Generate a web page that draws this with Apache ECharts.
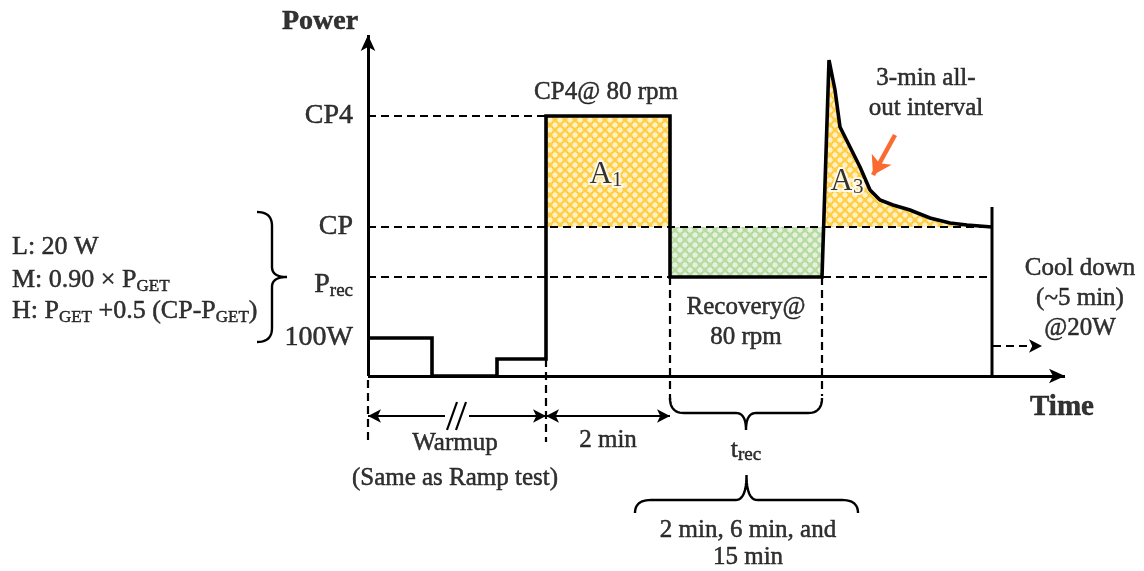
<!DOCTYPE html>
<html><head><meta charset="utf-8">
<script src="https://cdn.jsdelivr.net/npm/echarts@6/dist/echarts.min.js"></script>
<style>html,body{margin:0;padding:0;background:#fff}#c{width:1144px;height:571px}</style>
</head><body><div id="c"></div>
<script>
// ---------- data (schematic units: time along x, power along y) ----------
const levelNames  = ['CP4', 'CP', 'Prec', '100W'];
const levelValues = [260, 149, 99, 38];
const CP4 = 260, CP = 149, PREC = 99;
const warmLow = 17;
// phase boundaries on the time axis
const tWarm1End = 64, tWarm2Start = 129, tCP4Start = 178, tCP4End = 302, tRecEnd = 454, tEnd = 624;
const xAxisEnd = 697, yAxisEnd = 341;
// power profile
const profileTime  = [0, 64, 64, 129, 129, 178, 178, 302, 302, 454, 461, 467, 472, 482, 492, 502, 512, 525, 542, 562, 582, 599, 624];
const profilePower = [38, 38, 0, 0, 17, 17, 260, 260, 99, 99, 316, 286, 249, 229, 209, 186, 176, 171, 166, 158, 153, 151, 149];
const endMarkTop = 169;
const coolDownLevel = 30;

const FONT = 'Liberation Serif';
const INK = '#000';

function pattern(bg, fg) {
  const c = document.createElement('canvas'); c.width = 10; c.height = 10;
  const g = c.getContext('2d');
  g.fillStyle = bg; g.fillRect(0, 0, 10, 10);
  g.strokeStyle = fg; g.lineWidth = 1;
  [[0,0],[10,0],[0,10],[10,10],[5,5]].forEach(([x,y]) => { g.beginPath(); g.arc(x, y, 3.4, 0, Math.PI*2); g.stroke(); });
  g.fillStyle = fg;
  [[5,0],[0,5],[10,5],[5,10]].forEach(([x,y]) => { g.beginPath(); g.arc(x, y, 1, 0, Math.PI*2); g.fill(); });
  return c;
}
const yellowPat = pattern('#FFF1C6', '#FFC21A');
const greenPat  = pattern('#E4F1DC', '#A8D38C');

const profile = profileTime.map((t, i) => [t, profilePower[i]]);
// A3 region: part of the all-out curve above CP
const iRise = profileTime.indexOf(tRecEnd, 9);
const riseX = profileTime[iRise] + (profileTime[iRise+1] - profileTime[iRise]) * (CP - profilePower[iRise]) / (profilePower[iRise+1] - profilePower[iRise]);
const a3 = [[riseX, CP]].concat(profile.slice(iRise + 1));

const dash = { color: INK, width: 2.2, type: [8, 5] };
function seg(pts, style, z) {
  return { type: 'line', data: pts, symbol: 'none', lineStyle: style, z: z || 3, silent: true, animation: false };
}
function area(pts, origin, img) {
  return { type: 'line', data: pts, symbol: 'none', lineStyle: { width: 0 }, z: 1, silent: true,
    areaStyle: { origin: origin, opacity: 1, color: { image: img, repeat: 'repeat' } } };
}

const inkBorder = { textBorderColor: INK, textBorderWidth: 0.5 };
const rich = {
  s17: Object.assign({ fontFamily: FONT, fontSize: 17, color: INK, verticalAlign: 'bottom', lineHeight: 17 }, inkBorder),
  s19: Object.assign({ fontFamily: FONT, fontSize: 19, color: INK, verticalAlign: 'bottom', lineHeight: 19 }, inkBorder),
  a:   { fontFamily: FONT, fontSize: 31, color: INK, lineHeight: 32, textBorderColor: '#fff', textBorderWidth: 4 },
  as:  { fontFamily: FONT, fontSize: 21, color: INK, verticalAlign: 'bottom', lineHeight: 20, textBorderColor: '#fff', textBorderWidth: 4 }
};
function T(x, y, text, o) {
  return { value: [x, y], label: Object.assign({ show: true, position: 'inside', formatter: text, align: 'center',
    verticalAlign: 'middle', fontFamily: FONT, fontSize: 25, color: INK, lineHeight: 30, rich: rich }, inkBorder, o || {}) };
}
const tickText = { 'Prec': 'P{s19|rec}' };
const texts = [
  T(-48, 354, 'Power', { fontWeight: 'bold', fontSize: 28 }),
  T(694, -32, 'Time', { fontWeight: 'bold', fontSize: 29 }),
  ...levelNames.map((n, i) => T(-15, levelValues[i], tickText[n] || n, { align: 'right', fontSize: 28, lineHeight: 32, offset: [0, n === 'Prec' ? 8 : 0] })),
  T(238, 284, 'CP4@ 80 rpm'),
  T(238, 201, '{a|A}{as|1}'),
  T(479, 194, '{a|A}{as|3}'),
  T(558, 283, '3-min all-\nout interval'),
  T(378, 54, 'Recovery@\n80 rpm'),
  T(712, 78, 'Cool down\n(~5 min)\n@20W'),
  T(87, -67, 'Warmup'),
  T(87, -102, '(Same as Ramp test)'),
  T(240, -64, '2 min'),
  T(378, -74, 't{s19|rec}', { fontSize: 26 }),
  T(380, -168, '2 min, 6 min, and\n15 min', { lineHeight: 27 }),
  T(-356, 129, 'L: 20 W', { align: 'left', fontSize: 26 }),
  T(-356, 96, 'M: 0.90 × P{s17|GET}', { align: 'left', fontSize: 26 }),
  T(-356, 65, 'H: P{s17|GET} +0.5 (CP-P{s17|GET})', { align: 'left', fontSize: 26 })
];

function ml(a, b, s1, s2, style, size) {
  return [{ coord: a, symbol: s1, symbolSize: size }, { coord: b, symbol: s2, symbolSize: size, lineStyle: style }];
}
const black3 = { color: INK, width: 3, type: 'solid' };
const black2 = { color: INK, width: 2.2, type: 'solid' };

const option = {
  animation: false,
  backgroundColor: '#fff',
  grid: { left: 0, right: 0, top: 0, bottom: 0 },
  xAxis: { type: 'value', min: -368, max: 776, show: false },
  yAxis: { type: 'value', min: -195, max: 376, show: false },
  series: [
    area([[tCP4Start, CP4], [tCP4End, CP4]], CP, yellowPat),
    area([[tCP4End, CP], [tRecEnd, CP]], PREC, greenPat),
    area(a3, CP, yellowPat),
    seg([[0, CP4], [tCP4Start, CP4]], dash),
    seg([[0, CP], [tEnd, CP]], dash),
    seg([[0, PREC], [tEnd, PREC]], dash),
    seg([[0, -4], [0, -66]], dash),
    seg([[tCP4Start, warmLow], [tCP4Start, -66]], dash),
    seg([[tCP4End, PREC], [tCP4End, -24]], dash),
    seg([[tRecEnd, PREC], [tRecEnd, -20]], dash),
    seg(profile, { color: '#000', width: 3.6, join: 'miter', miterLimit: 2 }, 5),
    seg([[tEnd, endMarkTop], [tEnd, 0]], { color: '#000', width: 3 }, 5),
    seg([[79, -54], [89, -26]], black2),
    seg([[88, -54], [98, -26]], black2),
    {
      type: 'line', data: [], silent: true, z: 6,
      markLine: {
        silent: true, animation: false, label: { show: false }, emphasis: { disabled: true },
        lineStyle: black3,
        data: [
          ml([0, 0], [0, yAxisEnd], 'none', 'arrow', black3, [11, 16]),
          ml([0, 0], [xAxisEnd, 0], 'none', 'arrow', black3, [11, 16]),
          ml([0, -40], [77, -40], 'arrow', 'none', black2, [10, 13]),
          ml([101, -40], [tCP4Start, -40], 'none', 'arrow', black2, [10, 13]),
          ml([tCP4Start, -40], [tCP4End, -40], 'arrow', 'arrow', black2, [10, 13]),
          ml([tEnd + 1, coolDownLevel], [674, coolDownLevel], 'none', 'arrow', dash, [10, 13]),
          ml([527, 241], [505, 201], 'none', 'arrow', { color: '#FB6A30', width: 4.5, type: 'solid' }, [17, 18])
        ]
      }
    },
    { type: 'scatter', data: texts, symbolSize: 1, itemStyle: { color: 'rgba(0,0,0,0)' }, silent: true, z: 8 }
  ]
};

const chart = echarts.init(document.getElementById('c'), null, { renderer: 'canvas' });
chart.setOption(option);

// curly braces (annotation shapes) placed through the chart's scales
function P(p) { return chart.convertToPixel({ xAxisIndex: 0, yAxisIndex: 0 }, p); }
function bracePoints(d1, d2, dir, bar, tip, c, c2) {
  const p1 = P(d1), p2 = P(d2);
  const L = Math.hypot(p2[0]-p1[0], p2[1]-p1[1]);
  const u = [(p2[0]-p1[0])/L, (p2[1]-p1[1])/L];
  const loc = (a, b) => [p1[0] + u[0]*a + dir[0]*b, p1[1] + u[1]*a + dir[1]*b];
  const m = L / 2;
  const pts = [];
  const quad = (s, k, e) => { for (let i = 0; i <= 12; i++) { const t = i / 12, w = 1 - t;
    pts.push([w*w*s[0] + 2*w*t*k[0] + t*t*e[0], w*w*s[1] + 2*w*t*k[1] + t*t*e[1]]); } };
  quad(loc(0,0), loc(0,bar), loc(c,bar));
  quad(loc(m-c2,bar), loc(m,bar), loc(m,tip));
  quad(loc(m,tip), loc(m,bar), loc(m+c2,bar));
  quad(loc(L-c,bar), loc(L,bar), loc(L,0));
  return pts;
}
const braceStyle = { fill: null, stroke: INK, lineWidth: 2.4 };
const braces = [
  bracePoints([-111, 164], [-111, 34], [1, 0], 15, 30, 14, 10),
  bracePoints([tCP4End, -22], [tRecEnd, -22], [0, 1], 15, 32, 14, 10),
  bracePoints([267, -137], [490, -137], [0, -1], 13, 38, 16, 11)
];
chart.setOption({
  graphic: braces.map(pts => ({ type: 'polyline', shape: { points: pts }, style: braceStyle, silent: true, z: 10 }))
});
</script>
</body></html>
